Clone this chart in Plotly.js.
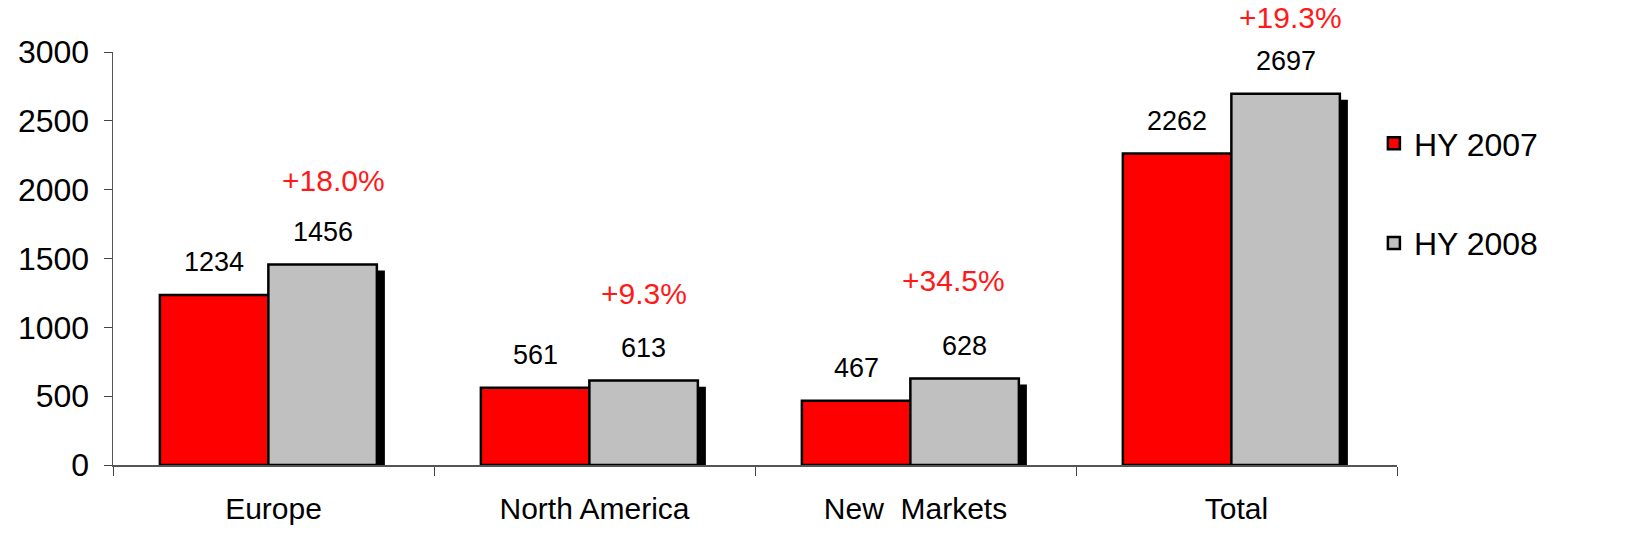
<!DOCTYPE html>
<html>
<head>
<meta charset="utf-8">
<script src="https://cdn.plot.ly/plotly-3.0.1.min.js"></script>
<style>html,body{margin:0;padding:0;background:#fff}#chart{width:1650px;height:553px}</style>
</head>
<body>
<div id="chart"></div>
<script>
const categories = ["Europe", "North America", "New  Markets", "Total"];
const hy2007 = [1234, 561, 467, 2262];
const hy2008 = [1456, 613, 628, 2697];
const growthLabels = ["+18.0%", "+9.3%", "+34.5%", "+19.3%"];
const seriesNames = ["HY 2007", "HY 2008"];
const yTicks = [0, 500, 1000, 1500, 2000, 2500, 3000];

const FONT = "Liberation Sans, Arial, sans-serif";
const BAR_W = 0.338;
const RED_OFF = -0.354;
const GRAY_OFF = RED_OFF + BAR_W;
const SHADOW_OFF = GRAY_OFF + 0.025;
const SHADOW_DROP = 44; // data units the shadow top sits below the bar top
// pixel nudges of the growth labels (layout style, not data)
const PCT_XSHIFT = [11, 0, -11, 5];
const PCT_YSHIFT = [84, 87, 98, 76];

const idx = categories.map((c, i) => i);

const shadow = {
  type: "bar", x: categories, y: hy2008.map(v => v - SHADOW_DROP),
  width: BAR_W, offset: SHADOW_OFF,
  marker: {color: "#000000", line: {width: 0}},
  showlegend: false, hoverinfo: "skip"
};
const t2007 = {
  type: "bar", name: seriesNames[0], x: categories, y: hy2007,
  width: BAR_W, offset: RED_OFF, legendgroup: "a",
  marker: {color: "#FF0000", line: {color: "#000000", width: 2.5}}
};
const t2008 = {
  type: "bar", name: seriesNames[1], x: categories, y: hy2008,
  width: BAR_W, offset: GRAY_OFF, legendgroup: "b",
  marker: {color: "#C0C0C0", line: {color: "#000000", width: 2.5}}
};

const annotations = [];
idx.forEach(i => {
  annotations.push({x: i + RED_OFF + BAR_W / 2, y: hy2007[i], xref: "x", yref: "y",
    text: String(hy2007[i]), showarrow: false, yshift: 33,
    font: {family: FONT, size: 27, color: "#000"}});
  annotations.push({x: i + GRAY_OFF + BAR_W / 2, y: hy2008[i], xref: "x", yref: "y",
    text: String(hy2008[i]), showarrow: false, yshift: 33,
    font: {family: FONT, size: 27, color: "#000"}});
  annotations.push({x: i + GRAY_OFF + BAR_W / 2, y: hy2008[i], xref: "x", yref: "y",
    text: growthLabels[i], showarrow: false,
    xshift: PCT_XSHIFT[i], yshift: PCT_YSHIFT[i],
    font: {family: FONT, size: 30, color: "#FF1A1A"}});
});

const layout = {
  width: 1650, height: 553,
  margin: {l: 113, r: 253, t: 52, b: 88},
  paper_bgcolor: "#fff", plot_bgcolor: "#fff",
  barmode: "overlay",
  font: {family: FONT, color: "#000"},
  xaxis: {
    type: "category", showgrid: false, zeroline: false,
    showline: true, linecolor: "#555", linewidth: 1.5,
    ticks: "outside", tickson: "boundaries", ticklen: 9, tickcolor: "#444", tickwidth: 1,
    ticklabelstandoff: 16,
    tickfont: {family: FONT, size: 30, color: "#000"},
    range: [-0.5, 3.5]
  },
  yaxis: {
    range: [0, 3000], tickvals: yTicks, ticktext: yTicks.map(String),
    showgrid: false, zeroline: false,
    showline: true, linecolor: "#555", linewidth: 1.5,
    ticks: "outside", ticklen: 8, tickcolor: "#444", tickwidth: 1,
    ticklabelstandoff: 8,
    tickfont: {family: FONT, size: 32, color: "#000"}
  },
  showlegend: true,
  legend: {
    x: 0.982, xanchor: "left", y: 0.845, yanchor: "top",
    traceorder: "grouped", tracegroupgap: 55,
    font: {family: FONT, size: 32, color: "#000"},
    bgcolor: "rgba(0,0,0,0)", itemwidth: 30
  },
  annotations: annotations
};

Plotly.newPlot("chart", [shadow, t2007, t2008], layout, {displayModeBar: false, staticPlot: true});
</script>
</body>
</html>
